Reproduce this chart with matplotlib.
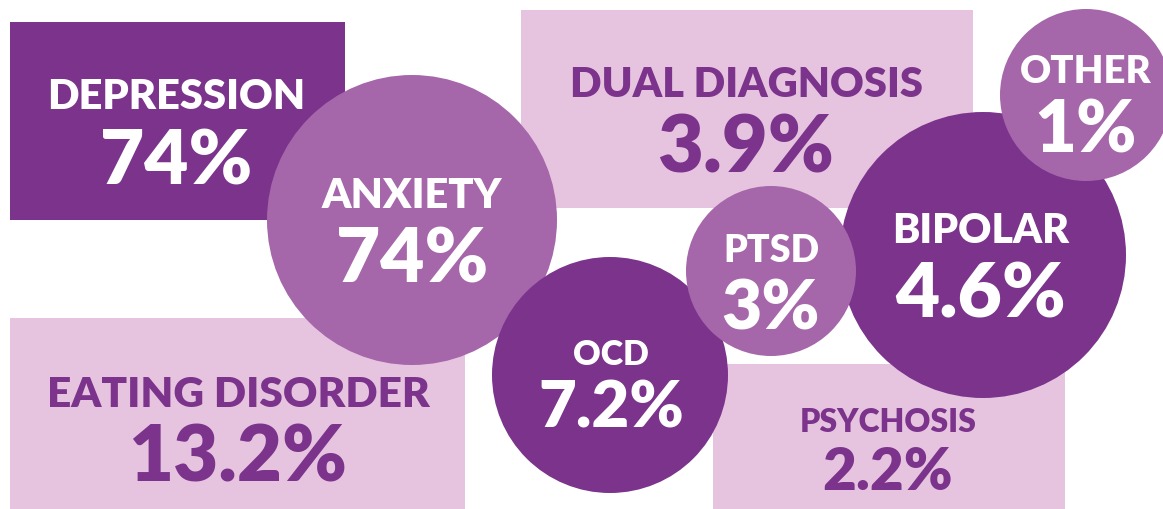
import matplotlib
matplotlib.use("Agg")
import matplotlib.pyplot as plt
from matplotlib.patches import Rectangle, Circle

plt.rcParams['font.family'] = ['Lato', 'DejaVu Sans']

DARK = '#7B338C'
MEDIUM = '#A566AA'
LIGHT = '#E6C4DF'

# the conditions and their share
labels = ['DEPRESSION', 'DUAL DIAGNOSIS', 'EATING DISORDER', 'PSYCHOSIS',
          'ANXIETY', 'OCD', 'BIPOLAR', 'PTSD', 'OTHER']
values = ['74%', '3.9%', '13.2%', '2.2%',
          '74%', '7.2%', '4.6%', '3%', '1%']

# layout in pixels: shape, geometry, fill, text colour,
# label baseline/size, value baseline/size, text centre x
layout = [
    ('rect', (10, 23, 335, 198), DARK, 'white', 109, 30, 185, 55, 176),
    ('rect', (521, 11, 452, 198), LIGHT, DARK, 97, 30, 173, 57, 746),
    ('rect', (10, 319, 455, 200), LIGHT, DARK, 407, 30.5, 482, 56, 238),
    ('rect', (713, 365, 352, 150), LIGHT, DARK, 432, 23, 490, 42, 888),
    ('circle', (412, 221, 145), MEDIUM, 'white', 208, 30, 283, 55, 412),
    ('circle', (610, 376, 118), DARK, 'white', 365, 24.5, 428, 47, 611),
    ('circle', (983, 256, 143), DARK, 'white', 243, 29.5, 318, 55, 981),
    ('circle', (771, 272, 85), MEDIUM, 'white', 262, 27, 330, 50, 771),
    ('circle', (1086, 96, 86), MEDIUM, 'white', 83, 27.5, 153, 52, 1086),
]

fig = plt.figure(figsize=(11.63, 5.10), dpi=100)
ax = fig.add_axes([0, 0, 1, 1])
ax.set_xlim(0, 1163)
ax.set_ylim(510, 0)
ax.set_aspect('equal')
ax.axis('off')

# shapes first, in stacking order
for z, (kind, geo, fill, tc, lb, ls, vb, vs, cx) in enumerate(layout):
    if kind == 'rect':
        x, y, w, h = geo
        ax.add_patch(Rectangle((x, y), w, h, facecolor=fill,
                               edgecolor='none', zorder=z + 1))
    else:
        x, y, r = geo
        ax.add_patch(Circle((x, y), r, facecolor=fill,
                            edgecolor='none', zorder=z + 1))

for z, (lab, val, row) in enumerate(zip(labels, values, layout)):
    kind, geo, fill, tc, lb, ls, vb, vs, cx = row
    ax.text(cx, lb, lab, color=tc, fontsize=ls, fontweight='heavy',
            ha='center', va='baseline', zorder=z + 1.5)
    ax.text(cx, vb, val, color=tc, fontsize=vs, fontweight='heavy',
            ha='center', va='baseline', zorder=z + 1.5)

fig.savefig('out.png', dpi=100)
